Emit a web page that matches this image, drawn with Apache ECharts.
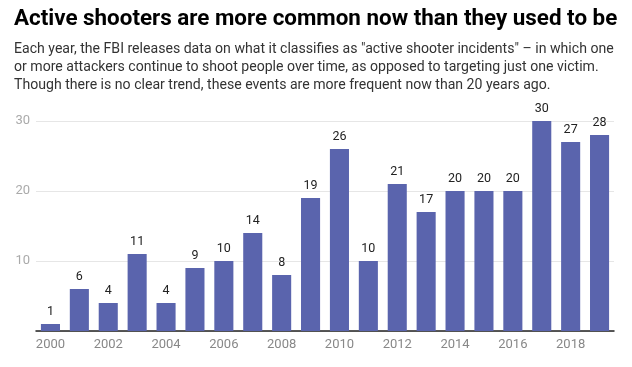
<!DOCTYPE html>
<html><head><meta charset="utf-8">
<script src="https://cdn.jsdelivr.net/npm/echarts@6/dist/echarts.min.js"></script>
<style>html,body{margin:0;padding:0;background:#fff}#c{width:632px;height:367px}</style>
</head><body><div id="c"></div>
<script>
const years = ["2000","2001","2002","2003","2004","2005","2006","2007","2008","2009","2010","2011","2012","2013","2014","2015","2016","2017","2018","2019"];
const incidents = [1,6,4,11,4,9,10,14,8,19,26,10,21,17,20,20,20,30,27,28];
const yTicks = [10,20,30];
const titleText = "Active shooters are more common now than they used to be";
const subText = "Each year, the FBI releases data on what it classifies as \"active shooter incidents\" \u2013 in which one\nor more attackers continue to shoot people over time, as opposed to targeting just one victim.\nThough there is no clear trend, these events are more frequent now than 20 years ago.";

const chart = echarts.init(document.getElementById('c'));
chart.setOption({
  animation: false,
  title: {
    text: titleText,
    subtext: subText,
    left: 9, top: 3,
    itemGap: 10,
    textStyle: {fontFamily: 'Roboto', fontWeight: 'bold', fontSize: 22.4, color: '#000'},
    subtextStyle: {fontFamily: 'Roboto', fontSize: 14.1, color: '#333', lineHeight: 18}
  },
  grid: {left: 36, right: 18, top: 121, bottom: 36},
  xAxis: {
    type: 'category', data: years,
    axisLine: {lineStyle: {color: '#222', width: 1.5}},
    axisTick: {show: false},
    axisLabel: {interval: 1, color: '#888', fontFamily: 'Roboto', fontSize: 13, margin: 7}
  },
  yAxis: {
    type: 'value', min: 0, max: 30, interval: 10,
    axisLine: {show: false}, axisTick: {show: false},
    splitLine: {lineStyle: {color: '#e6e6e6'}},
    axisLabel: {color: '#aaa', fontFamily: 'Roboto', fontSize: 13, margin: 6,
      formatter: v => yTicks.includes(v) ? String(v) : ''}
  },
  series: [{
    type: 'bar', data: incidents, barWidth: '66%',
    itemStyle: {color: '#5a64ad'},
    label: {show: true, position: 'top', distance: 6, color: '#222', fontFamily: 'Roboto', fontSize: 12.5}
  }]
});
</script></body></html>
